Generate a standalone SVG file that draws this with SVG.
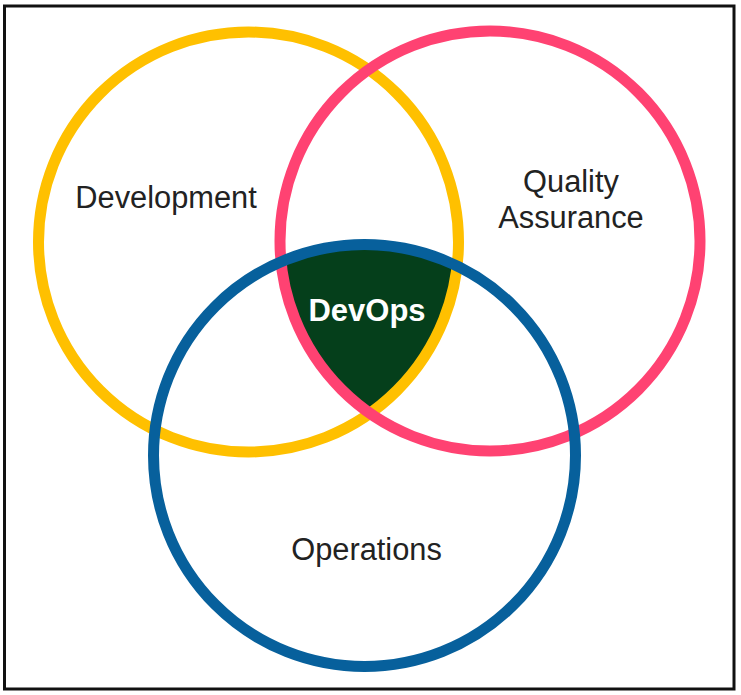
<svg xmlns="http://www.w3.org/2000/svg" width="741" height="695" viewBox="0 0 741 695">
  <style>
    .ring { fill: none; stroke-width: 11; }
    .label { font-family: "Liberation Sans", Arial, sans-serif; font-size: 30.8px; fill: #222222; text-anchor: middle; }
    .core { font-family: "Liberation Sans", Arial, sans-serif; font-size: 31px; font-weight: bold; fill: #ffffff; text-anchor: middle; }
  </style>
  <defs>
    <clipPath id="clipQA"><circle cx="490" cy="241" r="210"/></clipPath>
    <clipPath id="clipOps"><circle cx="364.5" cy="455.5" r="211"/></clipPath>
  </defs>
  <rect x="0" y="0" width="741" height="695" fill="#ffffff"/>
  <rect x="4.5" y="6" width="729.5" height="683" fill="none" stroke="#111111" stroke-width="3"/>

  <!-- shared region of all three sets -->
  <g id="devops">
    <g clip-path="url(#clipQA)">
      <circle cx="248.5" cy="242" r="210" fill="#053f1b" clip-path="url(#clipOps)"/>
    </g>
  </g>

  <g id="connectors"/>

  <g id="development">
    <circle class="ring" cx="248.5" cy="242" r="210" stroke="#ffc000"/>
    <text class="label" x="166" y="208">Development</text>
  </g>
  <g id="quality-assurance">
    <circle class="ring" cx="490" cy="241" r="210" stroke="#ff4272"/>
    <text class="label" x="571" y="192">Quality</text>
    <text class="label" x="571" y="228">Assurance</text>
  </g>
  <g id="operations">
    <circle class="ring" cx="364.5" cy="455.5" r="211" stroke="#07609c"/>
    <text class="label" x="366.5" y="560">Operations</text>
  </g>
  <g id="devops-label">
    <text class="core" x="367" y="321">DevOps</text>
  </g>
</svg>
